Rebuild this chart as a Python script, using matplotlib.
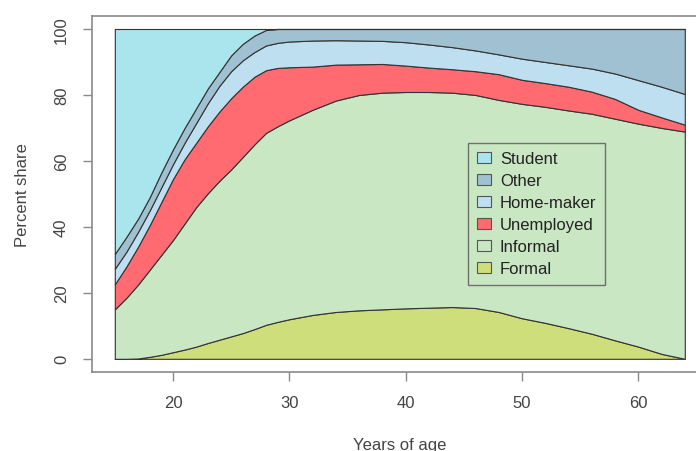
import matplotlib
matplotlib.use("Agg")
import matplotlib.pyplot as plt
from matplotlib.patches import Patch
import numpy as np

plt.rcParams['font.family'] = ['Liberation Sans', 'DejaVu Sans']

ages = [15, 16, 17, 18, 19, 20, 21, 22, 23, 24, 25, 26, 27, 28, 29, 30,
        32, 34, 36, 38, 40, 42, 44, 46, 48, 50, 52, 54, 56, 58, 60, 62, 64]

formal = [0.0, 0.0, 0.1, 0.6, 1.2, 2.0, 2.8, 3.7, 4.8, 5.8, 6.8, 7.8, 9.0, 10.3, 11.2, 12.0,
          13.3, 14.2, 14.7, 15.0, 15.3, 15.5, 15.7, 15.4, 14.2, 12.3, 10.9, 9.3, 7.6, 5.6, 3.7, 1.5, 0.0]
informal = [15.0, 18.5, 22.4, 26.4, 30.3, 34.0, 38.2, 42.3, 45.4, 48.2, 50.6, 53.4, 56.0, 58.2, 59.3, 60.3,
            62.2, 64.1, 65.3, 65.7, 65.6, 65.4, 65.0, 64.6, 64.3, 65.0, 65.5, 66.0, 66.7, 67.2, 67.6, 68.5, 68.9]
unemployed = [7.6, 9.5, 11.5, 13.5, 16.0, 18.5, 19.5, 19.5, 20.3, 21.0, 21.6, 21.3, 20.5, 19.0, 17.7, 16.1,
              13.1, 10.9, 9.3, 8.7, 8.0, 7.4, 7.1, 7.2, 7.8, 7.3, 7.2, 7.2, 6.7, 6.0, 4.2, 3.2, 2.1]
homemaker = [4.7, 4.5, 4.5, 4.5, 4.5, 4.5, 5.0, 6.0, 7.0, 7.8, 8.2, 8.0, 7.5, 7.5, 7.6, 7.8,
             7.9, 7.4, 7.2, 7.0, 7.1, 7.0, 6.7, 6.3, 6.0, 6.4, 6.4, 6.5, 7.0, 7.7, 9.0, 9.3, 9.3]
other = [4.5, 4.5, 4.0, 4.0, 4.5, 4.5, 4.5, 4.5, 4.5, 4.2, 4.8, 5.0, 5.0, 4.7, 4.2, 3.8,
         3.5, 3.4, 3.5, 3.6, 4.0, 4.7, 5.5, 6.5, 7.7, 9.0, 10.0, 11.0, 12.0, 13.5, 15.5, 17.5, 19.7]
student = [68.2, 63.0, 57.5, 51.0, 43.5, 36.5, 30.0, 24.0, 18.0, 13.0, 8.0, 4.5, 2.0, 0.3, 0.0, 0.0,
           0.0, 0.0, 0.0, 0.0, 0.0, 0.0, 0.0, 0.0, 0.0, 0.0, 0.0, 0.0, 0.0, 0.0, 0.0, 0.0, 0.0]

labels = ["Formal", "Informal", "Unemployed", "Home-maker", "Other", "Student"]
colors = ["#cede7a", "#cae7c4", "#ff6b70", "#bedff0", "#a0c1d2", "#aae5ee"]

W, H = 696, 452
fig = plt.figure(figsize=(W / 100, H / 100), dpi=100)
ax_left, ax_right, ax_top, ax_bottom = 92, 707.6, 16.8, 373
ax = fig.add_axes([ax_left / W, 1 - ax_bottom / H,
                   (ax_right - ax_left) / W, (ax_bottom - ax_top) / H])

series = [formal, informal, unemployed, homemaker, other, student]
polys = ax.stackplot(ages, *series, colors=colors, labels=labels,
                     edgecolor="#333333", linewidth=0.8)

ax.set_xlim(13.04, 65.96)
ax.set_ylim(-4, 104)
ax.set_xticks([20, 30, 40, 50, 60])
ax.set_yticks([0, 20, 40, 60, 80, 100])
for s in ax.spines.values():
    s.set_color("#8a8a8a")
    s.set_linewidth(1.2)
ax.tick_params(axis='both', colors="#8a8a8a", labelcolor="#444444",
               length=6.5, width=1.0, labelsize=12, pad=10)
for t in ax.get_yticklabels():
    t.set_rotation(90)
    t.set_va('center')

ax.set_xlabel("Years of age", fontsize=12, color="#444444")
ax.xaxis.set_label_coords(0.5, (ax_bottom - 445.5) / (ax_bottom - ax_top))
ax.xaxis.label.set_va('center')
ax.set_ylabel("Percent share", fontsize=12, color="#444444")
ax.yaxis.set_label_coords((22 - ax_left) / (ax_right - ax_left), 0.5)
ax.yaxis.label.set_va('center')

handles = [Patch(facecolor=c, edgecolor="#555555", linewidth=0.8) for c in colors][::-1]
leg = ax.legend(handles, labels[::-1], loc='upper left',
                bbox_to_anchor=(468.3 / W, 1 - 144 / H), bbox_transform=fig.transFigure,
                borderaxespad=0, fontsize=12, frameon=True, fancybox=False,
                labelspacing=0.42, handlelength=0.85, handleheight=0.68,
                handletextpad=0.55, borderpad=0.5)
frame = leg.get_frame()
frame.set_facecolor('none')
frame.set_edgecolor('#555555')
frame.set_linewidth(1.0)
for t in leg.get_texts():
    t.set_color("#222222")

fig.savefig("out.png", dpi=100)
